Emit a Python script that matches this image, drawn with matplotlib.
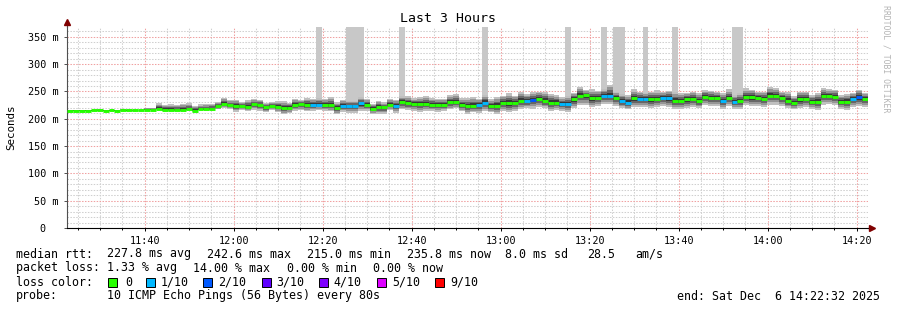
import numpy as np
import matplotlib
matplotlib.use("Agg")
import matplotlib.pyplot as plt
from matplotlib.patches import Rectangle
from matplotlib.lines import Line2D

# --- data (80 s steps, 11:22:32 -> 14:22:32), values in ms ---
start_min = 22 + 32 / 60.0     # minutes after 11:00
step_min = 80 / 60.0

median = [
    215.0, 215.0, 215.1, 215.0, 215.2, 215.3, 215.1, 215.2, 215.0, 215.4, 215.2, 215.3, 215.5, 216.8, 216.8,
    218.6, 216.0, 216.2, 215.8, 216.1, 217.0, 215.0, 217.5, 217.3, 217.6, 223.0, 227.8, 225.0, 223.0, 223.4,
    222.0, 226.6, 225.0, 221.7, 224.0, 222.0, 220.0, 220.3, 226.0, 226.2, 225.8, 226.0, 226.0, 226.0, 225.5,
    220.0, 223.0, 223.0, 223.0, 228.0, 226.0, 218.7, 221.0, 221.0, 226.0, 223.0, 231.0, 228.0, 227.0, 227.2,
    226.8, 226.0, 226.0, 226.0, 231.0, 231.0, 225.4, 223.5, 223.5, 225.0, 229.6, 223.5, 223.5, 228.5, 228.5,
    228.5, 233.0, 233.0, 234.6, 235.8, 233.0, 229.6, 229.6, 227.0, 227.0, 235.8, 242.5, 242.6, 237.6, 237.6,
    242.4, 242.4, 237.6, 233.0, 229.6, 237.6, 235.8, 235.8, 235.8, 235.8, 237.6, 237.6, 232.7, 232.7, 235.8,
    235.8, 233.0, 240.6, 237.6, 237.6, 233.0, 237.6, 231.5, 233.0, 239.5, 239.5, 237.6, 235.8, 241.9, 241.9,
    237.6, 233.0, 229.6, 235.8, 235.8, 231.5, 231.5, 241.9, 241.9, 239.5, 231.5, 231.5, 235.8, 239.5, 235.8,
]

loss = [
    0, 0, 0, 0, 0, 0, 0, 0, 0, 0, 0, 0, 0, 0, 0,
    0, 0, 0, 0, 0, 0, 0, 0, 0, 0, 0, 0, 0, 0, 0,
    0, 0, 0, 0, 0, 0, 0, 0, 0, 0, 0, 1, 1, 0, 0,
    0, 1, 1, 1, 1, 0, 0, 0, 0, 0, 1, 0, 0, 0, 0,
    0, 0, 0, 0, 0, 0, 0, 0, 0, 1, 1, 0, 0, 0, 0,
    0, 0, 1, 2, 0, 0, 0, 0, 1, 1, 0, 0, 0, 0, 0,
    1, 1, 0, 1, 1, 0, 1, 1, 0, 0, 1, 1, 0, 0, 0,
    0, 0, 0, 0, 0, 1, 0, 1, 0, 0, 0, 0, 0, 0, 0,
    0, 0, 0, 0, 0, 0, 0, 0, 0, 0, 0, 0, 1, 2, 0,
]

smoke_up = [
    1, 1, 1, 1, 1, 3, 1, 1, 1, 3, 2, 1, 1, 3, 3,
    10, 10, 10, 10, 11, 11, 8, 9, 10, 10, 8, 10, 9, 12, 8,
    12, 10, 10, 8, 7, 10, 12, 9, 10, 8, 12, 10, 12, 10, 14,
    10, 12, 10, 10, 12, 10, 8, 12, 9, 10, 12, 10, 14, 11, 12,
    14, 12, 10, 10, 12, 14, 12, 14, 16, 12, 14, 12, 16, 14, 18,
    14, 16, 12, 14, 14, 16, 16, 14, 12, 14, 12, 16, 10, 16, 14,
    12, 20, 12, 12, 14, 16, 14, 12, 14, 16, 12, 14, 16, 14, 12,
    14, 14, 12, 14, 12, 14, 16, 12, 14, 16, 14, 12, 14, 16, 14,
    12, 16, 12, 14, 14, 12, 16, 14, 12, 14, 12, 14, 12, 14, 12,
]

smoke_dn = [
    0.5, 0.5, 0.5, 0.5, 0.5, 0.5, 0.5, 0.5, 0.5, 0.5, 0.5, 0.5, 0.5, 1, 1,
    2, 2, 2, 2, 2, 2, 2, 2, 2, 2, 6, 8, 8, 10, 8,
    8, 10, 10, 10, 8, 10, 12, 10, 12, 10, 12, 12, 10, 12, 12,
    12, 10, 12, 12, 14, 12, 10, 12, 12, 10, 12, 14, 12, 12, 14,
    12, 12, 14, 12, 14, 12, 12, 14, 12, 14, 16, 12, 14, 14, 16,
    14, 16, 14, 16, 14, 14, 16, 14, 12, 14, 16, 18, 18, 16, 14,
    16, 16, 14, 14, 12, 16, 14, 14, 16, 14, 14, 16, 14, 14, 16,
    14, 14, 16, 14, 14, 16, 14, 14, 16, 14, 16, 14, 14, 16, 16,
    14, 14, 12, 16, 14, 14, 16, 16, 14, 14, 14, 16, 14, 16, 14,
]

# steps where the smoke runs off the top of the graph
spike_steps = [42, 47, 48, 49, 56, 70, 84, 90, 92, 93, 97, 102, 112, 113]

loss_labels = ["0", "1/10", "2/10", "3/10", "4/10", "5/10", "9/10"]
loss_colors = ["#26ff00", "#00b8ff", "#0059ff", "#5e00ff", "#7e00ff", "#dd00ff", "#ff0000"]

xtick_minutes = [40, 60, 80, 100, 120, 140, 160, 180, 200]
xtick_labels = ["11:40", "12:00", "12:20", "12:40", "13:00", "13:20", "13:40", "14:00", "14:20"]
ytick_values = [0, 50, 100, 150, 200, 250, 300, 350]
ytick_labels = ["0  ", "50 m", "100 m", "150 m", "200 m", "250 m", "300 m", "350 m"]

# --- figure ---
W, H = 897, 310
MONO = "DejaVu Sans Mono"
plt.rcParams["font.family"] = MONO

fig = plt.figure(figsize=(W / 100, H / 100), dpi=100)
ax = fig.add_axes([67 / W, 82 / H, 801 / W, 201 / H])

ymax = 368
xmin, xmax = start_min, start_min + len(median) * step_min
ax.set_xlim(xmin, xmax)
ax.set_ylim(0, ymax)

# grid
dot = (0, (1.4, 1.4))
for v in range(10, ymax, 10):
    if v % 50:
        ax.axhline(v, color="#cfcfcf", lw=0.75, ls=dot, zorder=0)
for v in range(50, ymax, 50):
    ax.axhline(v, color="#f0a0a0", lw=0.75, ls=dot, zorder=0.5)
for m in range(25, 203, 5):
    if m % 20:
        ax.axvline(m, color="#cfcfcf", lw=0.75, ls=dot, zorder=0)
for m in xtick_minutes:
    ax.axvline(m, color="#f0a0a0", lw=0.75, ls=dot, zorder=0.5)

med = np.array(median)
up = np.array(smoke_up)
dn = np.array(smoke_dn)
x0 = xmin + np.arange(len(med)) * step_min

# spikes to top
for i in spike_steps:
    ax.bar(x0[i], ymax - med[i], bottom=med[i], width=step_min, align="edge",
           color="#c8c8c8", lw=0, zorder=1)

# smoke layers
for f, c in zip([1.0, 0.75, 0.5, 0.28], ["#c0c0c0", "#959595", "#666666", "#383838"]):
    ax.bar(x0, (up + dn) * f, bottom=med - dn * f, width=step_min, align="edge",
           color=c, lw=0, zorder=2)

# median coloured by loss
for i in range(len(med)):
    ax.hlines(med[i], x0[i], x0[i] + step_min, color=loss_colors[loss[i]],
              lw=2.1, zorder=3)

# axes styling
for s in ["top", "right"]:
    ax.spines[s].set_visible(False)
ax.spines["left"].set_color("#505050")
ax.spines["bottom"].set_color("black")
ax.spines["left"].set_linewidth(0.8)
ax.spines["bottom"].set_linewidth(0.8)

ax.set_yticks(ytick_values)
ax.set_yticklabels(ytick_labels)
ax.set_xticks(xtick_minutes)
ax.set_xticklabels(xtick_labels)
ax.set_xticks(list(range(25, 203, 5)), minor=True)
ax.tick_params(axis="y", length=2.5, width=0.7, pad=3.5, labelsize=7.3, color="#505050")
ax.tick_params(axis="x", which="major", length=2.5, width=0.7, pad=3, labelsize=7.3)
ax.tick_params(axis="x", which="minor", length=1.5, width=0.7)

# axis arrows
fig.add_artist(Line2D([67 / W, 67 / W], [1 - 27 / H, 1 - 22 / H], color="#505050", lw=0.8))
fig.add_artist(Line2D([868 / W, 871 / W], [82 / H, 82 / H], color="black", lw=0.8))
fig.add_artist(Line2D([67 / W], [1 - 22 / H], marker="^", ms=4, color="#800000", lw=0))
fig.add_artist(Line2D([872 / W], [82 / H], marker=">", ms=4, color="#800000", lw=0))

# titles
fig.text(448 / W, 1 - 19 / H, "Last 3 Hours", ha="center", va="center", fontsize=9.5)
fig.text(11 / W, 1 - 127 / H, "Seconds", rotation=90, ha="center", va="center", fontsize=7.8)
fig.text(886 / W, 1 - 59 / H, "RRDTOOL / TOBI OETIKER", rotation=270, ha="center",
         va="center", fontsize=5.9, color="#b4b4b4")

# legend rows
fs = 8.4
def row(y, parts):
    for x, s in parts:
        fig.text(x / W, 1 - y / H, s, ha="left", va="center", fontsize=fs)

row(254, [(16, "median rtt:"), (107, "227.8 ms avg"), (207, "242.6 ms max"),
          (307, "215.0 ms min"), (407, "235.8 ms now"), (505, "8.0 ms sd"),
          (587, "28.5"), (635, "am/s")])
row(268, [(16, "packet loss:"), (107, "1.33 % avg"), (193, "14.00 % max"),
          (287, "0.00 % min"), (373, "0.00 % now")])
row(282, [(16, "loss color:")])
box_x = [108, 146, 203, 262, 319, 377, 435]
text_x = [125, 161, 218, 276, 333, 392, 450]
for bx, tx, lab, c in zip(box_x, text_x, loss_labels, loss_colors):
    fig.add_artist(Rectangle((bx / W, 1 - 287 / H), 9 / W, 9 / H, transform=fig.transFigure,
                             facecolor=c, edgecolor="black", lw=0.7))
    fig.text(tx / W, 1 - 282 / H, lab, ha="left", va="center", fontsize=fs)
row(296, [(16, "probe:"), (107, "10 ICMP Echo Pings (56 Bytes) every 80s")])
fig.text(880 / W, 1 - 296 / H, "end: Sat Dec  6 14:22:32 2025", ha="right", va="center", fontsize=fs)

fig.savefig("out.png", dpi=100)
